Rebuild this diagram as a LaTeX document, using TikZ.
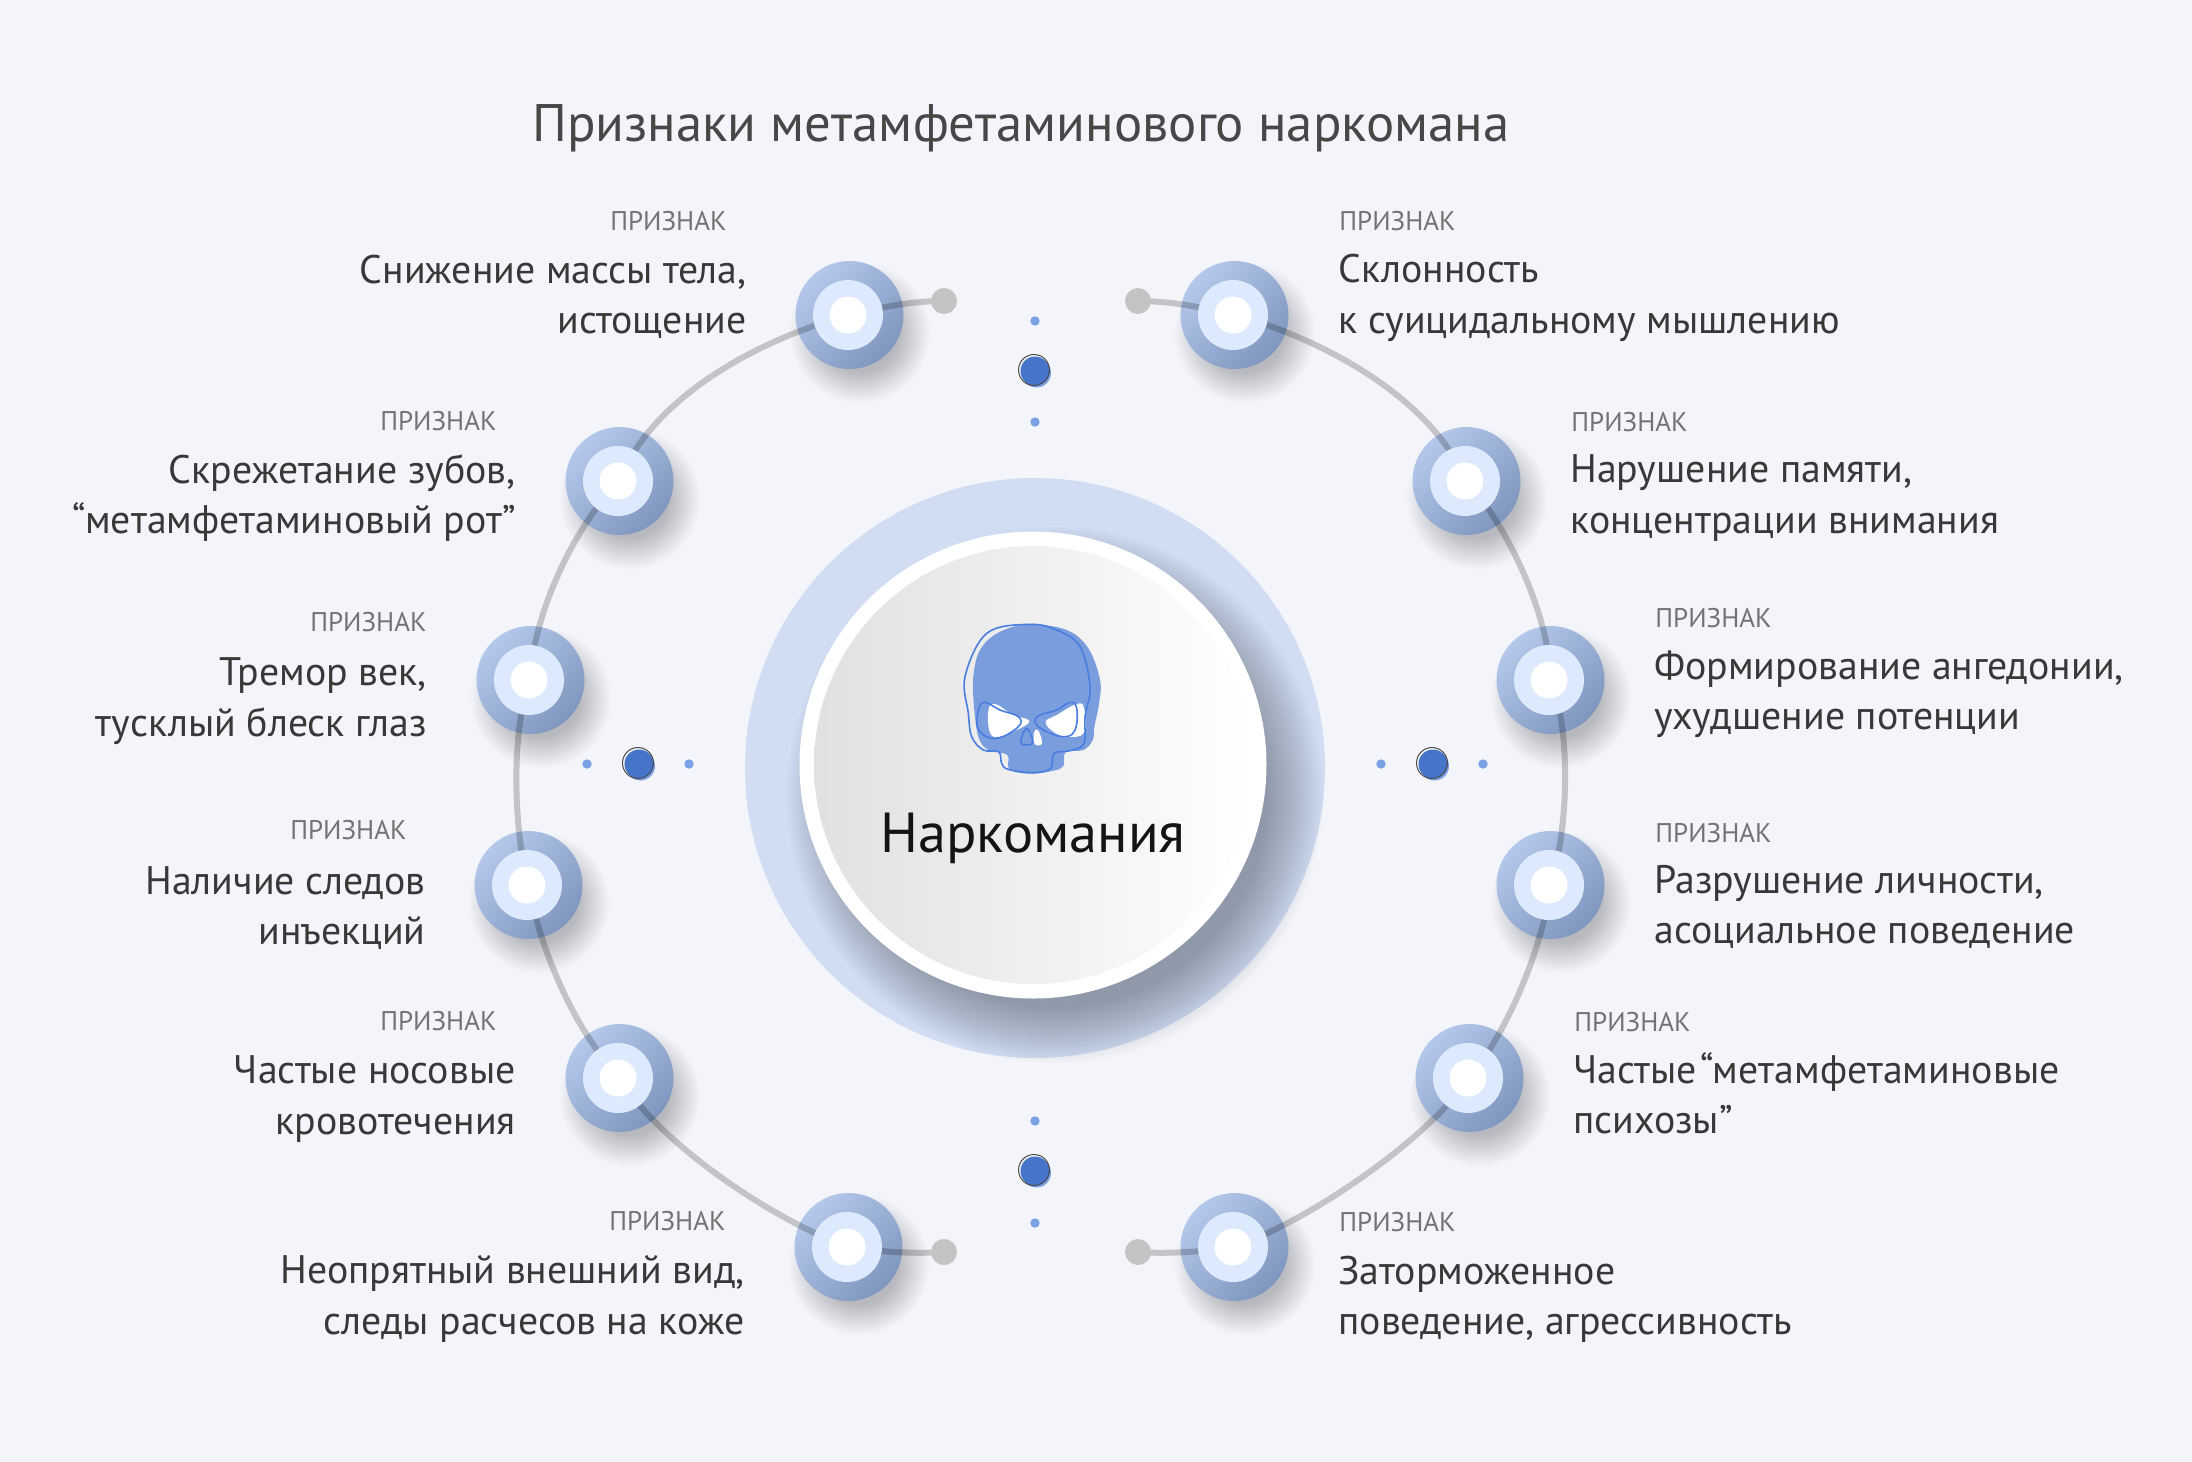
\documentclass[tikz,border=0pt]{standalone}
\usepackage{fontspec}
\setmainfont{PT Sans}
\usepackage{xcolor}
\definecolor{pagebg}{HTML}{F4F5FA}
\definecolor{haloblue}{HTML}{D0DDF3}
\definecolor{ringlight}{HTML}{B4C8EB}
\definecolor{ringdark}{HTML}{7F96BE}
\definecolor{ringmid}{HTML}{DDE9FD}
\definecolor{dotblue}{HTML}{7AA0E6}
\definecolor{coreblue}{HTML}{4674C8}
\definecolor{skullblue}{HTML}{7A9DDD}
\definecolor{skullline}{HTML}{4A7DE0}
\definecolor{endgray}{HTML}{C4C4C4}
\tikzset{
    signring/.style={circle,inner sep=0pt,minimum size=54pt,top color=ringlight,bottom color=ringdark,shading angle=45},
    signmid/.style={circle,inner sep=0pt,minimum size=35pt,fill=ringmid},
    signcore/.style={circle,inner sep=0pt,minimum size=18.5pt,fill=white},
    ringline/.style={line width=3pt,black,opacity=0.2},
    enddot/.style={circle,inner sep=0pt,minimum size=13pt,fill=endgray},
    smalldot/.style={circle,inner sep=0pt,minimum size=4.7pt,fill=dotblue},
    bigdot/.style={circle,inner sep=0pt,minimum size=14.5pt,fill=coreblue},
    signtag/.style={inner sep=0pt,text=black!55,font=\fontsize{13.5}{16}\selectfont},
    signtext/.style={inner sep=0pt,text=black!78,font=\fontsize{19.9}{25.2}\selectfont},
}
\newcommand{\softshadow}[5]{% x, y, radius, spread, opacity
    \foreach \k in {0,...,19}
        \fill[black,opacity=#5] (#1,#2) circle ({#3+#4-\k*#4/20});
}
\newcommand{\signpoint}[3]{%
    \softshadow{#2+12}{#3+18}{38}{32}{0.011}
    \node[signring] (#1) at (#2+1.5,#3) {};
}
\newcommand{\bigpoint}[3]{%
    \fill[dotblue] (#2+1.5,#3+2) circle (14.5);
    \node[bigdot] (#1) at (#2,#3) {};
    \draw[black!70,line width=0.5pt] (#2-1,#3-1) circle (15.5);
}
\begin{document}
\begin{tikzpicture}[x=0.5pt,y=-0.5pt]
    \useasboundingbox (0,0) rectangle (2192,1462);
    \fill[pagebg] (0,0) rectangle (2192,1462);

    % Title
    \node[inner sep=0pt,text=black!72,font=\fontsize{26.4}{32}\selectfont] (title) at (1021,128) {Признаки метамфетаминового наркомана};

    % Central disc
    \node[circle,inner sep=0pt,minimum size=290pt,fill=haloblue] (halo) at (1035,768) {};
    \softshadow{1055}{795}{210}{58}{0.014}
    \node[circle,inner sep=0pt,minimum size=233.5pt,fill=white] (disc) at (1033,765) {};
    \node[circle,inner sep=0pt,minimum size=219pt,left color=black!12,right color=white] (face) at (1033,765) {};

    % Sign points
    \signpoint{sL1}{848}{315}
    \signpoint{sL2}{618}{481}
    \signpoint{sL3}{529}{680}
    \signpoint{sL4}{527}{885}
    \signpoint{sL5}{618}{1078}
    \signpoint{sL6}{847}{1247}
    \signpoint{sR1}{1233}{315}
    \signpoint{sR2}{1465}{481}
    \signpoint{sR3}{1549}{680}
    \signpoint{sR4}{1549}{885}
    \signpoint{sR5}{1468}{1078}
    \signpoint{sR6}{1233}{1247}

    % Ring lines
    \draw[ringline] (944,301) coordinate (endTL) .. controls (915,301) and (885,306) .. (sL1.center)
        .. controls (755,340) and (650,400) .. (sL2.center)
        .. controls (575,525) and (532,616) .. (sL3.center)
        .. controls (512,725) and (512,823) .. (sL4.center)
        .. controls (537,935) and (567,1021) .. (sL5.center)
        .. controls (660,1145) and (777,1222) .. (sL6.center)
        .. controls (880,1252) and (915,1254) .. (944,1252) coordinate (endBL);
    \draw[ringline] (1138,301) coordinate (endTR) .. controls (1167,301) and (1197,306) .. (sR1.center)
        .. controls (1327,340) and (1432,400) .. (sR2.center)
        .. controls (1507,525) and (1550,616) .. (sR3.center)
        .. controls (1570,725) and (1570,823) .. (sR4.center)
        .. controls (1545,935) and (1515,1021) .. (sR5.center)
        .. controls (1422,1145) and (1305,1222) .. (sR6.center)
        .. controls (1202,1252) and (1167,1254) .. (1138,1252) coordinate (endBR);
    \node[enddot] (dotTL) at (endTL) {};
    \node[enddot] (dotTR) at (endTR) {};
    \node[enddot] (dotBL) at (endBL) {};
    \node[enddot] (dotBR) at (endBR) {};

    \foreach \s/\x/\y in {sL1/848/315,sL2/618/481,sL3/529/680,sL4/527/885,sL5/618/1078,sL6/847/1247,sR1/1233/315,sR2/1465/481,sR3/1549/680,sR4/1549/885,sR5/1468/1078,sR6/1233/1247} {
        \node[signmid] (\s m) at (\x,\y) {};
        \node[signcore] (\s c) at (\x,\y) {};
    }

    % Dots around the disc
    \node[smalldot] (dT1) at (1035,321) {};
    \bigpoint{dT2}{1035}{371}
    \node[smalldot] (dT3) at (1035,422) {};
    \node[smalldot] (dL1) at (587,764) {};
    \bigpoint{dL2}{639}{764}
    \node[smalldot] (dL3) at (689,764) {};
    \node[smalldot] (dR1) at (1381,764) {};
    \bigpoint{dR2}{1433}{764}
    \node[smalldot] (dR3) at (1483,764) {};
    \node[smalldot] (dB1) at (1035,1121) {};
    \bigpoint{dB2}{1035}{1171}
    \node[smalldot] (dB3) at (1035,1223) {};

    % Skull
    \begin{scope}[shift={(900,580)},x=0.1667pt,y=-0.1667pt]
        \fill[skullblue] plot[smooth cycle,tension=0.6] coordinates {(385,133) (500,150) (565,205) (600,300) (597,370) (583,440) (578,480) (550,510) (497,516) (490,558) (460,572) (390,581) (328,568) (322,525) (265,510) (235,470) (222,380) (220,290) (240,210) (295,158)};
        \fill[white] plot[smooth cycle,tension=0.7] coordinates {(265,392) (285,372) (340,405) (382,418) (382,432) (345,452) (298,470) (270,458)};
        \fill[white] plot[smooth cycle,tension=0.7] coordinates {(437,425) (470,405) (530,372) (552,385) (552,458) (500,470) (460,455)};
        \fill[white] plot[smooth cycle,tension=0.7] coordinates {(402,458) (414,450) (426,490) (404,492)};
        \draw[skullline,line width=0.8pt] plot[smooth cycle,tension=0.6] coordinates {(385,133) (470,150) (540,200) (570,320) (555,410) (552,490) (510,512) (462,520) (452,565) (400,578) (325,568) (305,550) (296,515) (250,510) (215,470) (205,400) (195,290) (260,160)};
        \draw[skullline,line width=0.8pt] plot[smooth cycle,tension=0.7] coordinates {(232,410) (250,367) (300,390) (355,410) (355,440) (290,475) (240,455)};
        \draw[skullline,line width=0.8pt] plot[smooth cycle,tension=0.7] coordinates {(405,425) (420,405) (470,390) (510,367) (530,385) (525,450) (490,470) (430,450)};
        \draw[skullline,line width=0.8pt] plot[smooth cycle,tension=0.7] coordinates {(362,485) (380,445) (398,485) (380,495)};
    \end{scope}
    \node[inner sep=0pt,text=black!92,font=\fontsize{28.2}{32}\selectfont] (coreLabel) at (1033,838) {Наркомания};

    % Left labels
    \node[signtag,anchor=east] (tL1) at (727,221) {ПРИЗНАК};
    \node[signtext,anchor=east,align=right] (lL1) at (747,297) {Снижение массы тела,\\истощение};
    \node[signtag,anchor=east] (tL2) at (497,421) {ПРИЗНАК};
    \node[signtext,anchor=east,align=right] (lL2) at (516,498) {Скрежетание зубов,\\“метамфетаминовый рот”};
    \node[signtag,anchor=east] (tL3) at (427,622) {ПРИЗНАК};
    \node[signtext,anchor=east,align=right] (lL3) at (427,701) {Тремор век,\\тусклый блеск глаз};
    \node[signtag,anchor=east] (tL4) at (407,830) {ПРИЗНАК};
    \node[signtext,anchor=east,align=right] (lL4) at (426,908) {Наличие следов\\инъекций};
    \node[signtag,anchor=east] (tL5) at (497,1021) {ПРИЗНАК};
    \node[signtext,anchor=east,align=right] (lL5) at (516,1099) {Частые носовые\\кровотечения};
    \node[signtag,anchor=east] (tL6) at (726,1221) {ПРИЗНАК};
    \node[signtext,anchor=east,align=right] (lL6) at (745,1299) {Неопрятный внешний вид,\\следы расчесов на коже};

    % Right labels
    \node[signtag,anchor=west] (tR1) at (1339,221) {ПРИЗНАК};
    \node[signtext,anchor=west,align=left] (lR1) at (1338,298) {Склонность\\к суицидальному мышлению};
    \node[signtag,anchor=west] (tR2) at (1571,422) {ПРИЗНАК};
    \node[signtext,anchor=west,align=left] (lR2) at (1570,498) {Нарушение памяти,\\концентрации внимания};
    \node[signtag,anchor=west] (tR3) at (1655,618) {ПРИЗНАК};
    \node[signtext,anchor=west,align=left] (lR3) at (1654,694) {Формирование ангедонии,\\ухудшение потенции};
    \node[signtag,anchor=west] (tR4) at (1655,833) {ПРИЗНАК};
    \node[signtext,anchor=west,align=left] (lR4) at (1654,907) {Разрушение личности,\\асоциальное поведение};
    \node[signtag,anchor=west] (tR5) at (1574,1022) {ПРИЗНАК};
    \node[signtext,anchor=west,align=left] (lR5) at (1573,1093) {Частые\hspace{0.08em}“метамфетаминовые\\психозы”};
    \node[signtag,anchor=west] (tR6) at (1339,1222) {ПРИЗНАК};
    \node[signtext,anchor=west,align=left] (lR6) at (1338,1299) {Заторможенное\\поведение, агрессивность};
\end{tikzpicture}
\end{document}
